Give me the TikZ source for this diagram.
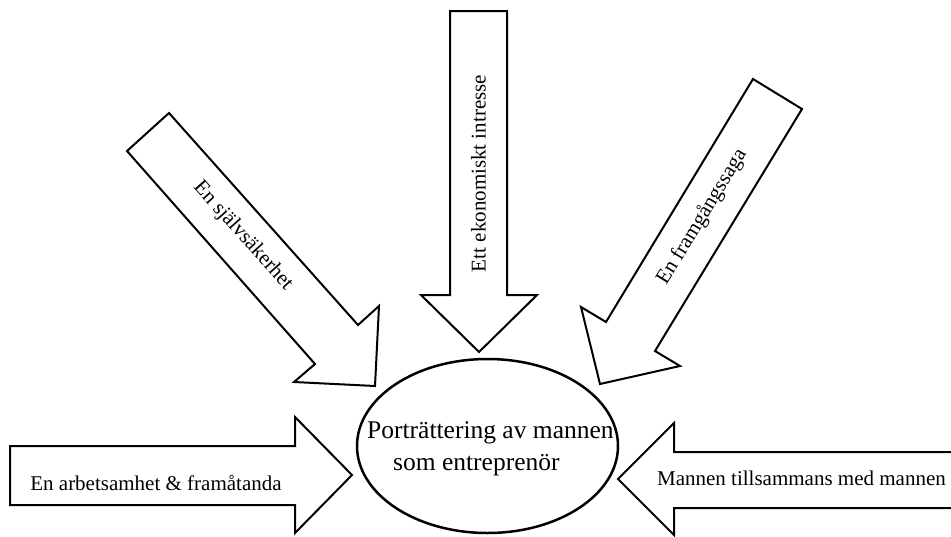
\documentclass[tikz,border=0pt]{standalone}
\usepackage{fontspec}
\setmainfont{Liberation Serif}
\usetikzlibrary{shapes.geometric}
\begin{document}
\begin{tikzpicture}[x=1pt,y=-1pt,
  arrowshape/.style={draw=black, line width=2pt, fill=white, line join=miter},
  lbl/.style={font=\fontsize{21}{25}\selectfont, inner sep=0pt},
  big/.style={font=\fontsize{25.5}{32}\selectfont, inner sep=0pt}]
\path[use as bounding box] (0,0) rectangle (951,536);
% centre ellipse
\node[draw, ellipse, line width=2.5pt, minimum width=261pt, minimum height=174pt, inner sep=0pt] (c) at (487.5,446) {};
\node[big, anchor=base west] (c1) at (367,438) {Porträttering av mannen};
\node[big, anchor=base west] (c2) at (393,470) {som entreprenör};
% top-left arrow
\draw[arrowshape] (169,113) -- (127,151) -- (315,364) -- (294,382) -- (375,386) -- (379,306) -- (358,325) -- cycle;
\node[lbl, rotate=-48.2] (t1) at (243,236) {En självsäkerhet};
% top-right arrow
\draw[arrowshape] (753,79) -- (802,109) -- (655,351) -- (680,366) -- (600,384) -- (581,307) -- (606,322) -- cycle;
\node[lbl, rotate=58.6] (t2) at (702,217) {En framgångssaga};
% middle arrow
\draw[arrowshape] (450,11) -- (507,11) -- (507,295) -- (537,295) -- (479,352) -- (421,295) -- (450,295) -- cycle;
\node[lbl, rotate=90] (t3) at (478.5,173.5) {Ett ekonomiskt intresse};
% left arrow
\draw[arrowshape] (10,446) -- (295,446) -- (295,417) -- (352,475) -- (295,533) -- (295,505) -- (10,505) -- cycle;
\node[lbl, anchor=base] (t4) at (156,490) {En arbetsamhet \& framåtanda};
% right arrow
\draw[arrowshape] (951,452) -- (674,452) -- (674,423) -- (618,479) -- (674,535) -- (674,508) -- (951,508);
\node[lbl, anchor=base] (t5) at (801.5,485) {Mannen tillsammans med mannen};
\end{tikzpicture}
\end{document}
